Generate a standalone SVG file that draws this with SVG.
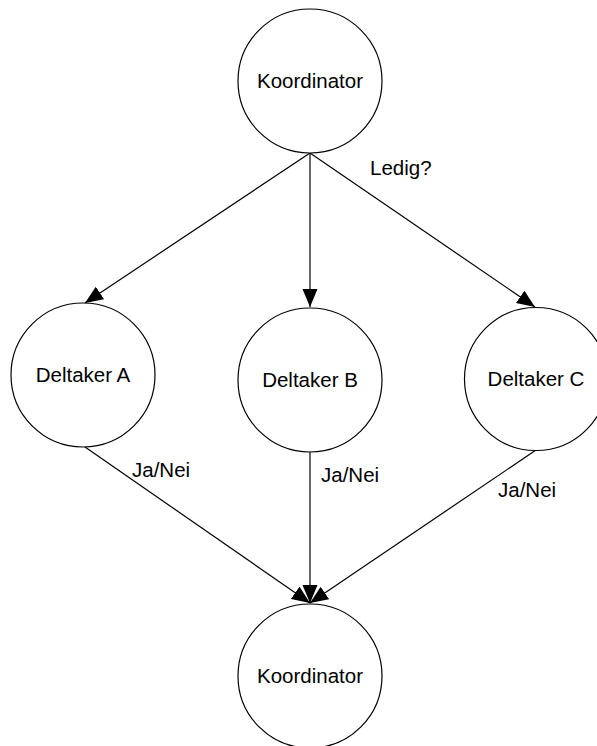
<svg xmlns="http://www.w3.org/2000/svg" width="597" height="746" viewBox="0 0 597 746">
  <style>
    .node circle { fill: #ffffff; stroke: #000000; stroke-width: 1.2; }
    .label { font-family: "Liberation Sans", Arial, sans-serif; font-size: 20.5px; fill: #000000; }
    .node text { text-anchor: middle; }
    .edge { stroke: #000000; stroke-width: 1.2; fill: none; marker-end: url(#arrow); }
  </style>
  <defs>
    <marker id="arrow" markerUnits="userSpaceOnUse" markerWidth="20" markerHeight="16" refX="18" refY="7.5" orient="auto">
      <path d="M0,0 L18,7.5 L0,15 Z" fill="#000000"/>
    </marker>
  </defs>
  <rect width="597" height="746" fill="#ffffff"/>

  <!-- connectors -->
  <g id="connectors">
    <line class="edge" x1="310" y1="153" x2="85" y2="303"/>
    <line class="edge" x1="310" y1="153" x2="310" y2="307"/>
    <line class="edge" x1="310" y1="153" x2="535" y2="307"/>
    <line class="edge" x1="85" y1="447" x2="310" y2="603"/>
    <line class="edge" x1="310" y1="452" x2="310" y2="603"/>
    <line class="edge" x1="536" y1="450" x2="310" y2="603"/>
    <text class="label" x="370" y="175">Ledig?</text>
    <text class="label" x="132" y="477">Ja/Nei</text>
    <text class="label" x="321" y="482">Ja/Nei</text>
    <text class="label" x="498" y="497">Ja/Nei</text>
  </g>

  <!-- nodes -->
  <g id="koordinator-top" class="node">
    <circle cx="310" cy="81" r="72"/>
    <text class="label" x="310" y="88">Koordinator</text>
  </g>
  <g id="deltaker-a" class="node">
    <circle cx="83" cy="375" r="72"/>
    <text class="label" x="83" y="382">Deltaker A</text>
  </g>
  <g id="deltaker-b" class="node">
    <circle cx="310" cy="380" r="72"/>
    <text class="label" x="310" y="387">Deltaker B</text>
  </g>
  <g id="deltaker-c" class="node">
    <circle cx="536" cy="379" r="71.5"/>
    <text class="label" x="536" y="386">Deltaker C</text>
  </g>
  <g id="koordinator-bottom" class="node">
    <circle cx="310" cy="676" r="72"/>
    <text class="label" x="310" y="683">Koordinator</text>
  </g>
</svg>
